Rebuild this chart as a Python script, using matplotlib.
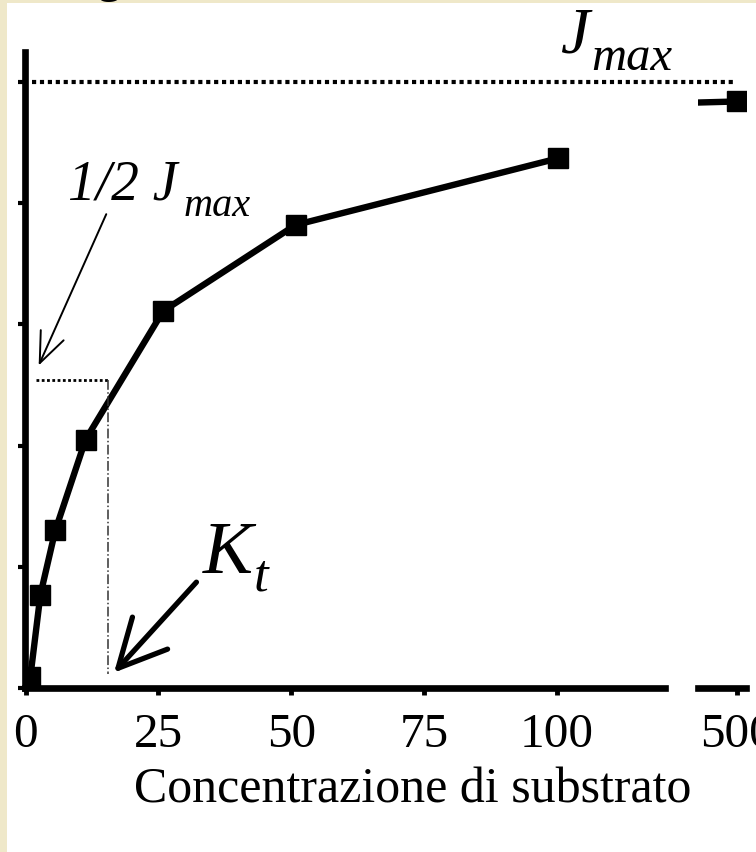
import matplotlib.pyplot as plt
from matplotlib.patches import Rectangle

# substrate concentration vs flux
conc = [0.9, 2.8, 5.6, 11.3, 25.9, 50.8, 100.2, 500]
flux = [0.09, 0.77, 1.30, 2.05, 3.11, 3.82, 4.37, 4.84]
jmax = 5.0
half_j = 2.54
kt = 15.5
main_ticks = [0, 25, 50, 75, 100]
break_ticks = [500]
y_ticks = [0, 1, 2, 3, 4, 5]

serif = 'Liberation Serif'

fig = plt.figure(figsize=(7.56, 8.53), dpi=100, facecolor='#efe8c9')
fig.patches.append(Rectangle((7 / 756, 0), 1, 1 - 4 / 853, transform=fig.transFigure,
                             facecolor='white', edgecolor='none', zorder=-5))

ax = fig.add_axes([25 / 756, 1 - 689 / 853, 640 / 756, 636 / 853])
ax2 = fig.add_axes([698 / 756, 1 - 689 / 853, 48 / 756, 636 / 853])

for a in (ax, ax2):
    a.set_facecolor('none')
    a.set_ylim(0.016, 5.247)
    for s in ['top', 'right']:
        a.spines[s].set_visible(False)
    a.spines['bottom'].set_linewidth(4.8)
    a.tick_params(axis='x', direction='out', length=5, width=3.5, pad=12,
                  labelsize=35.5, labelfontfamily=serif)

ax.spines['left'].set_linewidth(4.8)
ax.set_xlim(-0.1, 120.3)
ax.set_xticks(main_ticks)
ax.set_yticks(y_ticks)
ax.set_yticklabels([])
ax.tick_params(axis='y', direction='out', length=5, width=3)

ax2.spines['left'].set_visible(False)
ax2.set_xlim(492.7, 501.7)
ax2.set_xticks(break_ticks)
ax2.set_yticks([])

# curve: main part up to 100, broken part near 500
ax.plot(conc[:-1], flux[:-1], color='black', lw=4.6, marker='s', markersize=14.5,
        solid_joinstyle='round')
ax2.plot(conc[-2:], flux[-2:], color='black', lw=4.6, marker='s', markersize=14.5)

# Jmax dotted line across both panels
ax.plot([1.3, 133], [jmax, jmax], color='black', lw=3, linestyle=(0, (1, 0.9)),
        clip_on=False)
# half Jmax and Kt guides
ax.plot([1.9, kt], [half_j, half_j], color='black', lw=2, linestyle=(0, (1, 0.9)))
ax.plot([kt, kt], [half_j, 0.115], color='#333333', lw=1.1, linestyle='-.')

# labels
ax.text(100.6, 5.25, 'J', fontsize=47, family=serif, style='italic', va='baseline')
ax.text(106.4, 5.11, 'max', fontsize=35, family=serif, style='italic', va='baseline')
ax.text(7.9, 4.04, '1/2 J', fontsize=40, family=serif, style='italic', va='baseline')
ax.text(29.7, 3.90, 'max', fontsize=29, family=serif, style='italic', va='baseline')
ax.text(33.3, 0.96, 'K', fontsize=54, family=serif, style='italic', va='baseline')
ax.text(42.9, 0.81, 't', fontsize=38, family=serif, style='italic', va='baseline')

ax.annotate('', xy=(2.26, 2.64), xytext=(15.4, 3.93),
            arrowprops=dict(arrowstyle='->,head_length=1.1,head_width=0.45',
                            color='black', lw=1.4, mutation_scale=20))
ax.annotate('', xy=(16.3, 0.11), xytext=(32.5, 0.89),
            arrowprops=dict(arrowstyle='->,head_length=0.9,head_width=0.45',
                            color='black', lw=3.8, mutation_scale=38))

fig.text(413 / 756, 1 - 803 / 853, 'Concentrazione di substrato', fontsize=36,
         family=serif, ha='center', va='baseline')
# clipped piece of the title above the picture
fig.text(97 / 756, 1 + 9 / 853, 'g', fontsize=36, family=serif, va='baseline')

fig.savefig('out.png', dpi=100, facecolor=fig.get_facecolor())
